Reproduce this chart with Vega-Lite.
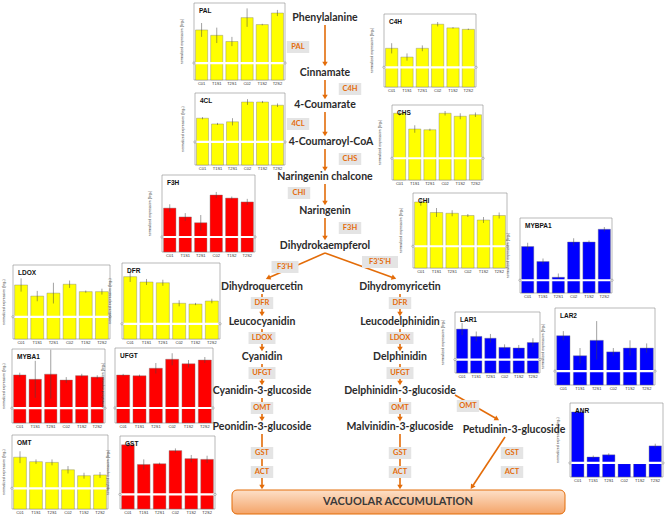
{
"$schema":"https://vega.github.io/schema/vega-lite/v6.json",
"width":667,"height":522,"autosize":"none","padding":0,"background":"white",
"config":{"view":{"stroke":null}},
"datasets":{
"layout":[
{"gene":"PAL","color":"#ffff00","x0":194,"x1":285,"y0":3,"y1":80,"brk":22},
{"gene":"C4H","color":"#ffff00","x0":384,"x1":476,"y0":14,"y1":87,"brk":27},
{"gene":"4CL","color":"#ffff00","x0":195,"x1":285,"y0":93,"y1":165,"brk":32},
{"gene":"CHS","color":"#ffff00","x0":392,"x1":483,"y0":105,"y1":180,"brk":29},
{"gene":"F3H","color":"#ff0000","x0":162,"x1":255,"y0":175,"y1":252,"brk":19.5},
{"gene":"CHI","color":"#ffff00","x0":413,"x1":507,"y0":193,"y1":268,"brk":29},
{"gene":"MYBPA1","color":"#0000ff","x0":520,"x1":612,"y0":218,"y1":293,"brk":17},
{"gene":"LDOX","color":"#ffff00","x0":13,"x1":110,"y0":265,"y1":339,"brk":30},
{"gene":"DFR","color":"#ffff00","x0":122,"x1":220,"y0":263,"y1":339,"brk":20},
{"gene":"MYBA1","color":"#ff0000","x0":12,"x1":105,"y0":349,"y1":423,"brk":20},
{"gene":"UFGT","color":"#ff0000","x0":115,"x1":213,"y0":348,"y1":423,"brk":20},
{"gene":"OMT","color":"#ffff00","x0":12,"x1":108,"y0":435,"y1":509,"brk":28},
{"gene":"GST","color":"#ff0000","x0":120,"x1":215,"y0":436,"y1":509,"brk":20},
{"gene":"LAR1","color":"#0000ff","x0":455,"x1":540,"y0":312,"y1":373,"brk":22},
{"gene":"LAR2","color":"#0000ff","x0":555,"x1":655,"y0":308,"y1":385,"brk":18},
{"gene":"ANR","color":"#0000ff","x0":570,"x1":663,"y0":403,"y1":477,"brk":19}
],
"expr":[
{"gene":"PAL","sample":"C01","rel":65,"err":9},{"gene":"PAL","sample":"T1S1","rel":58,"err":10},{"gene":"PAL","sample":"T2S1","rel":50,"err":6},{"gene":"PAL","sample":"C02","rel":81,"err":12},{"gene":"PAL","sample":"T1S2","rel":72,"err":1},{"gene":"PAL","sample":"T2S2","rel":87,"err":4},
{"gene":"C4H","sample":"C01","rel":53,"err":7},{"gene":"C4H","sample":"T1S1","rel":41,"err":5},{"gene":"C4H","sample":"T2S1","rel":53,"err":4},{"gene":"C4H","sample":"C02","rel":86,"err":3},{"gene":"C4H","sample":"T1S2","rel":81,"err":1},{"gene":"C4H","sample":"T2S2","rel":79,"err":1},
{"gene":"4CL","sample":"C01","rel":65,"err":1.5},{"gene":"4CL","sample":"T1S1","rel":57,"err":1.5},{"gene":"4CL","sample":"T2S1","rel":60,"err":5},{"gene":"4CL","sample":"C02","rel":87.5,"err":4},{"gene":"4CL","sample":"T1S2","rel":87.5,"err":1.5},{"gene":"4CL","sample":"T2S2","rel":83,"err":2.5},
{"gene":"CHS","sample":"C01","rel":89,"err":3},{"gene":"CHS","sample":"T1S1","rel":68,"err":5},{"gene":"CHS","sample":"T2S1","rel":67,"err":1.5},{"gene":"CHS","sample":"C02","rel":89,"err":3},{"gene":"CHS","sample":"T1S2","rel":85,"err":4},{"gene":"CHS","sample":"T2S2","rel":87,"err":3},
{"gene":"F3H","sample":"C01","rel":57,"err":5},{"gene":"F3H","sample":"T1S1","rel":45.5,"err":5},{"gene":"F3H","sample":"T2S1","rel":38,"err":10},{"gene":"F3H","sample":"C02","rel":74,"err":4},{"gene":"F3H","sample":"T1S2","rel":70,"err":2},{"gene":"F3H","sample":"T2S2","rel":65,"err":4},
{"gene":"CHI","sample":"C01","rel":88,"err":5},{"gene":"CHI","sample":"T1S1","rel":74,"err":6},{"gene":"CHI","sample":"T2S1","rel":73,"err":4},{"gene":"CHI","sample":"C02","rel":70,"err":2},{"gene":"CHI","sample":"T1S2","rel":64,"err":4},{"gene":"CHI","sample":"T2S2","rel":70,"err":4},
{"gene":"MYBPA1","sample":"C01","rel":62,"err":5},{"gene":"MYBPA1","sample":"T1S1","rel":42,"err":4},{"gene":"MYBPA1","sample":"T2S1","rel":21,"err":5},{"gene":"MYBPA1","sample":"C02","rel":68,"err":5},{"gene":"MYBPA1","sample":"T1S2","rel":68,"err":2},{"gene":"MYBPA1","sample":"T2S2","rel":85,"err":3},
{"gene":"LDOX","sample":"C01","rel":73,"err":9},{"gene":"LDOX","sample":"T1S1","rel":58,"err":7},{"gene":"LDOX","sample":"T2S1","rel":62,"err":14},{"gene":"LDOX","sample":"C02","rel":74,"err":5},{"gene":"LDOX","sample":"T1S2","rel":64,"err":1.5},{"gene":"LDOX","sample":"T2S2","rel":64,"err":4},
{"gene":"DFR","sample":"C01","rel":82,"err":7},{"gene":"DFR","sample":"T1S1","rel":75,"err":4},{"gene":"DFR","sample":"T2S1","rel":74,"err":4},{"gene":"DFR","sample":"C02","rel":47,"err":4},{"gene":"DFR","sample":"T1S2","rel":46,"err":1.5},{"gene":"DFR","sample":"T2S2","rel":50,"err":3},
{"gene":"MYBA1","sample":"C01","rel":65,"err":3},{"gene":"MYBA1","sample":"T1S1","rel":59,"err":25},{"gene":"MYBA1","sample":"T2S1","rel":66,"err":33},{"gene":"MYBA1","sample":"C02","rel":58,"err":4},{"gene":"MYBA1","sample":"T1S2","rel":64,"err":2.5},{"gene":"MYBA1","sample":"T2S2","rel":62,"err":2.5},
{"gene":"UFGT","sample":"C01","rel":64,"err":1.5},{"gene":"UFGT","sample":"T1S1","rel":63,"err":1.5},{"gene":"UFGT","sample":"T2S1","rel":73,"err":7},{"gene":"UFGT","sample":"C02","rel":85,"err":8},{"gene":"UFGT","sample":"T1S2","rel":79,"err":5},{"gene":"UFGT","sample":"T2S2","rel":84,"err":4},
{"gene":"OMT","sample":"C01","rel":70,"err":8},{"gene":"OMT","sample":"T1S1","rel":64,"err":3},{"gene":"OMT","sample":"T2S1","rel":63,"err":4},{"gene":"OMT","sample":"C02","rel":53,"err":5},{"gene":"OMT","sample":"T1S2","rel":45,"err":4},{"gene":"OMT","sample":"T2S2","rel":46,"err":4},
{"gene":"GST","sample":"C01","rel":88,"err":3},{"gene":"GST","sample":"T1S1","rel":61,"err":7},{"gene":"GST","sample":"T2S1","rel":62,"err":1.5},{"gene":"GST","sample":"C02","rel":80,"err":3},{"gene":"GST","sample":"T1S2","rel":69,"err":5},{"gene":"GST","sample":"T2S2","rel":68,"err":5},
{"gene":"LAR1","sample":"C01","rel":72,"err":10},{"gene":"LAR1","sample":"T1S1","rel":60,"err":8},{"gene":"LAR1","sample":"T2S1","rel":57,"err":7},{"gene":"LAR1","sample":"C02","rel":42,"err":5},{"gene":"LAR1","sample":"T1S2","rel":41,"err":5},{"gene":"LAR1","sample":"T2S2","rel":50,"err":7},
{"gene":"LAR2","sample":"C01","rel":64,"err":6},{"gene":"LAR2","sample":"T1S1","rel":38,"err":10},{"gene":"LAR2","sample":"T2S1","rel":58,"err":25},{"gene":"LAR2","sample":"C02","rel":43,"err":5},{"gene":"LAR2","sample":"T1S2","rel":48,"err":10},{"gene":"LAR2","sample":"T2S2","rel":48,"err":6},
{"gene":"ANR","sample":"C01","rel":88,"err":1},{"gene":"ANR","sample":"T1S1","rel":27,"err":2},{"gene":"ANR","sample":"T2S1","rel":30,"err":2},{"gene":"ANR","sample":"C02","rel":18,"err":1},{"gene":"ANR","sample":"T1S2","rel":18,"err":1},{"gene":"ANR","sample":"T2S2","rel":42,"err":3}
],
"nodes":[
{"name":"Phenylalanine","x":325,"y":18},{"name":"Cinnamate","x":325,"y":73},{"name":"4-Coumarate","x":325,"y":105},{"name":"4-Coumaroyl-CoA","x":331,"y":142},{"name":"Naringenin chalcone","x":325,"y":177},{"name":"Naringenin","x":325,"y":211},{"name":"Dihydrokaempferol","x":325,"y":246},
{"name":"Dihydroquercetin","x":262,"y":287},{"name":"Dihydromyricetin","x":400,"y":287},
{"name":"Leucocyanidin","x":262,"y":322},{"name":"Leucodelphinidin","x":400,"y":322},
{"name":"Cyanidin","x":262,"y":357},{"name":"Delphinidin","x":400,"y":357},
{"name":"Cyanidin-3-glucoside","x":262,"y":391},{"name":"Delphinidin-3-glucoside","x":400,"y":391},
{"name":"Peonidin-3-glucoside","x":262,"y":427},{"name":"Malvinidin-3-glucoside","x":400,"y":427},{"name":"Petudinin-3-glucoside","x":514,"y":430}
],
"edges":[
{"x1":325,"y1":25,"x2":325,"y2":64},{"x1":325,"y1":80,"x2":325,"y2":97},{"x1":325,"y1":112,"x2":325,"y2":134},{"x1":325,"y1":149,"x2":325,"y2":169},{"x1":325,"y1":184,"x2":325,"y2":203},{"x1":325,"y1":218,"x2":325,"y2":238},
{"x1":325,"y1":253,"x2":268,"y2":278},{"x1":325,"y1":253,"x2":394,"y2":278},
{"x1":262,"y1":294,"x2":262,"y2":314},{"x1":262,"y1":329,"x2":262,"y2":349},{"x1":262,"y1":364,"x2":262,"y2":383},{"x1":262,"y1":398,"x2":262,"y2":419},{"x1":262,"y1":434,"x2":262,"y2":487},
{"x1":400,"y1":294,"x2":400,"y2":314},{"x1":400,"y1":329,"x2":400,"y2":349},{"x1":400,"y1":364,"x2":400,"y2":383},{"x1":400,"y1":398,"x2":400,"y2":419},{"x1":400,"y1":434,"x2":400,"y2":487},
{"x1":455,"y1":395,"x2":497,"y2":419},{"x1":505,"y1":437,"x2":472,"y2":487}
],
"enzymes":[
{"label":"PAL","x":298,"y":47},{"label":"C4H","x":350,"y":89},{"label":"4CL","x":298,"y":124},{"label":"CHS","x":350,"y":159},{"label":"CHI","x":299,"y":193},{"label":"F3H","x":350,"y":228},
{"label":"F3'H","x":285,"y":267},{"label":"F3'5'H","x":380,"y":262},
{"label":"DFR","x":262,"y":303},{"label":"DFR","x":400,"y":303},{"label":"LDOX","x":262,"y":338},{"label":"LDOX","x":400,"y":338},{"label":"UFGT","x":262,"y":373},{"label":"UFGT","x":400,"y":373},
{"label":"OMT","x":262,"y":408},{"label":"OMT","x":400,"y":408},{"label":"OMT","x":468,"y":406},
{"label":"GST","x":262,"y":453},{"label":"GST","x":400,"y":453},{"label":"GST","x":512,"y":453},
{"label":"ACT","x":262,"y":472},{"label":"ACT","x":400,"y":472},{"label":"ACT","x":512,"y":472}
]
},
"layer":[
{"data":{"name":"edges"},"mark":{"type":"rule","stroke":"#e36c09","strokeWidth":1.6},
 "encoding":{"x":{"field":"x1","type":"quantitative","scale":{"domain":[0,667],"nice":false,"zero":false},"axis":null},"x2":{"field":"x2"},
 "y":{"field":"y1","type":"quantitative","scale":{"domain":[0,522],"nice":false,"zero":false,"reverse":true},"axis":null},"y2":{"field":"y2"}}},
{"data":{"name":"edges"},"transform":[{"calculate":"atan2(datum.x2-datum.x1, -(datum.y2-datum.y1))*180/PI","as":"ang"}],
 "mark":{"type":"point","shape":"triangle-up","filled":true,"color":"#e36c09","size":30,"opacity":1},
 "encoding":{"x":{"field":"x2","type":"quantitative","scale":{"domain":[0,667],"nice":false,"zero":false},"axis":null},
 "y":{"field":"y2","type":"quantitative","scale":{"domain":[0,522],"nice":false,"zero":false,"reverse":true},"axis":null},
 "angle":{"field":"ang","type":"quantitative","scale":null}}},
{"data":{"name":"enzymes"},"transform":[{"calculate":"4.5*length(datum.label)+9","as":"w"},{"calculate":"datum.x-datum.w/2","as":"bx1"},{"calculate":"datum.x+datum.w/2","as":"bx2"},{"calculate":"datum.y-6","as":"by1"},{"calculate":"datum.y+6","as":"by2"}],
 "mark":{"type":"rect","fill":"#e4e4e4"},
 "encoding":{"x":{"field":"bx1","type":"quantitative","scale":{"domain":[0,667],"nice":false,"zero":false},"axis":null},"x2":{"field":"bx2"},
 "y":{"field":"by1","type":"quantitative","scale":{"domain":[0,522],"nice":false,"zero":false,"reverse":true},"axis":null},"y2":{"field":"by2"}}},
{"data":{"name":"enzymes"},"mark":{"type":"text","font":"Lato","fontWeight":"bold","fontSize":7.5,"color":"#e46c0a","align":"center","baseline":"middle"},
 "encoding":{"x":{"field":"x","type":"quantitative","scale":{"domain":[0,667],"nice":false,"zero":false},"axis":null},
 "y":{"field":"y","type":"quantitative","scale":{"domain":[0,522],"nice":false,"zero":false,"reverse":true},"axis":null},"text":{"field":"label"}}},
{"data":{"values":[{"label":"VACUOLAR ACCUMULATION","x0":232,"x1":565,"y0":490,"y1":514}]},
 "mark":{"type":"rect","cornerRadius":5,"stroke":"#e36c09","strokeWidth":1,"fill":{"gradient":"linear","x1":0,"y1":0,"x2":0,"y2":1,"stops":[{"offset":0,"color":"#fde0c8"},{"offset":1,"color":"#f4a468"}]}},
 "encoding":{"x":{"field":"x0","type":"quantitative","scale":{"domain":[0,667],"nice":false,"zero":false},"axis":null},"x2":{"field":"x1"},
 "y":{"field":"y0","type":"quantitative","scale":{"domain":[0,522],"nice":false,"zero":false,"reverse":true},"axis":null},"y2":{"field":"y1"}}},
{"data":{"values":[{"label":"VACUOLAR ACCUMULATION","x":398,"y":502}]},
 "mark":{"type":"text","font":"Lato","fontWeight":"bold","fontSize":11,"color":"#3a3a3a","align":"center","baseline":"middle"},
 "encoding":{"x":{"field":"x","type":"quantitative","scale":{"domain":[0,667],"nice":false,"zero":false},"axis":null},
 "y":{"field":"y","type":"quantitative","scale":{"domain":[0,522],"nice":false,"zero":false,"reverse":true},"axis":null},"text":{"field":"label"}}},
{"data":{"name":"layout"},"mark":{"type":"rect","fill":"white","stroke":"#8c8c8c","strokeWidth":0.6},
 "encoding":{"x":{"field":"x0","type":"quantitative","scale":{"domain":[0,667],"nice":false,"zero":false},"axis":null},"x2":{"field":"x1"},
 "y":{"field":"y0","type":"quantitative","scale":{"domain":[0,522],"nice":false,"zero":false,"reverse":true},"axis":null},"y2":{"field":"y1"}}},
{"data":{"name":"expr"},"transform":[
 {"lookup":"gene","from":{"data":{"name":"layout"},"key":"gene","fields":["x0","x1","y0","y1","color"]}},
 {"calculate":"indexof(['C01','T1S1','T2S1','C02','T1S2','T2S2'], datum.sample)","as":"i"},
 {"calculate":"(datum.x1-datum.x0)/6","as":"bw"},
 {"calculate":"datum.x0+(datum.i+0.1)*datum.bw","as":"bx1"},{"calculate":"datum.x0+(datum.i+0.9)*datum.bw","as":"bx2"},
 {"calculate":"datum.y1-datum.rel/100*(datum.y1-datum.y0)","as":"by"}],
 "mark":{"type":"rect","stroke":"#7a7a7a","strokeWidth":0.4},
 "encoding":{"x":{"field":"bx1","type":"quantitative","scale":{"domain":[0,667],"nice":false,"zero":false},"axis":null},"x2":{"field":"bx2"},
 "y":{"field":"by","type":"quantitative","scale":{"domain":[0,522],"nice":false,"zero":false,"reverse":true},"axis":null},"y2":{"field":"y1"},
 "fill":{"field":"color","type":"nominal","scale":null}}},
{"data":{"name":"expr"},"transform":[
 {"lookup":"gene","from":{"data":{"name":"layout"},"key":"gene","fields":["x0","x1","y0","y1"]}},
 {"calculate":"indexof(['C01','T1S1','T2S1','C02','T1S2','T2S2'], datum.sample)","as":"i"},
 {"calculate":"datum.x0+(datum.i+0.5)*(datum.x1-datum.x0)/6","as":"cx"},
 {"calculate":"max(datum.y0, datum.y1-(datum.rel+datum.err)/100*(datum.y1-datum.y0))","as":"e1"},
 {"calculate":"datum.y1-(datum.rel-datum.err)/100*(datum.y1-datum.y0)","as":"e2"}],
 "mark":{"type":"rule","stroke":"#444444","strokeWidth":0.5},
 "encoding":{"x":{"field":"cx","type":"quantitative","scale":{"domain":[0,667],"nice":false,"zero":false},"axis":null},
 "y":{"field":"e1","type":"quantitative","scale":{"domain":[0,522],"nice":false,"zero":false,"reverse":true},"axis":null},"y2":{"field":"e2"}}},
{"data":{"name":"layout"},"transform":[{"calculate":"datum.x0-3","as":"lx1"},{"calculate":"datum.x1+3","as":"lx2"},{"calculate":"datum.y1-datum.brk/100*(datum.y1-datum.y0)","as":"yb"}],
 "mark":{"type":"rule","stroke":"white","strokeWidth":2.2},
 "encoding":{"x":{"field":"lx1","type":"quantitative","scale":{"domain":[0,667],"nice":false,"zero":false},"axis":null},"x2":{"field":"lx2"},
 "y":{"field":"yb","type":"quantitative","scale":{"domain":[0,522],"nice":false,"zero":false,"reverse":true},"axis":null}}},
{"data":{"name":"layout"},"transform":[{"calculate":"datum.y1-datum.brk/100*(datum.y1-datum.y0)","as":"yb"},{"fold":["x0","x1"],"as":["side","bxp"]}],
 "mark":{"type":"point","shape":"circle","filled":true,"fill":"white","stroke":"#666666","strokeWidth":0.5,"size":5,"opacity":1},
 "encoding":{"x":{"field":"bxp","type":"quantitative","scale":{"domain":[0,667],"nice":false,"zero":false},"axis":null},
 "y":{"field":"yb","type":"quantitative","scale":{"domain":[0,522],"nice":false,"zero":false,"reverse":true},"axis":null}}},
{"data":{"name":"layout"},"transform":[{"calculate":"datum.x0+5","as":"tx"},{"calculate":"datum.y0+8","as":"ty"}],
 "mark":{"type":"text","font":"Liberation Sans","fontWeight":"bold","fontSize":6.5,"color":"#111111","align":"left","baseline":"middle"},
 "encoding":{"x":{"field":"tx","type":"quantitative","scale":{"domain":[0,667],"nice":false,"zero":false},"axis":null},
 "y":{"field":"ty","type":"quantitative","scale":{"domain":[0,522],"nice":false,"zero":false,"reverse":true},"axis":null},"text":{"field":"gene"}}},
{"data":{"name":"layout"},"transform":[{"calculate":"max(4, datum.x0-12)","as":"tx"},{"calculate":"(datum.y0+datum.y1)/2","as":"ty"}],
 "mark":{"type":"text","font":"Liberation Sans","fontSize":3.6,"color":"#333333","align":"center","baseline":"middle","angle":270,"text":"normalized expression (log₂)"},
 "encoding":{"x":{"field":"tx","type":"quantitative","scale":{"domain":[0,667],"nice":false,"zero":false},"axis":null},
 "y":{"field":"ty","type":"quantitative","scale":{"domain":[0,522],"nice":false,"zero":false,"reverse":true},"axis":null}}},
{"data":{"name":"expr"},"transform":[
 {"lookup":"gene","from":{"data":{"name":"layout"},"key":"gene","fields":["x0","x1","y1"]}},
 {"calculate":"indexof(['C01','T1S1','T2S1','C02','T1S2','T2S2'], datum.sample)","as":"i"},
 {"calculate":"datum.x0+(datum.i+0.5)*(datum.x1-datum.x0)/6","as":"cx"},{"calculate":"datum.y1+4","as":"ly"}],
 "mark":{"type":"text","font":"Liberation Sans","fontSize":4,"color":"#333333","align":"center","baseline":"middle"},
 "encoding":{"x":{"field":"cx","type":"quantitative","scale":{"domain":[0,667],"nice":false,"zero":false},"axis":null},
 "y":{"field":"ly","type":"quantitative","scale":{"domain":[0,522],"nice":false,"zero":false,"reverse":true},"axis":null},"text":{"field":"sample"}}},
{"data":{"name":"nodes"},"mark":{"type":"text","font":"Lato","fontWeight":"bold","fontSize":10.5,"color":"#2b2b2b","align":"center","baseline":"middle"},
 "encoding":{"x":{"field":"x","type":"quantitative","scale":{"domain":[0,667],"nice":false,"zero":false},"axis":null},
 "y":{"field":"y","type":"quantitative","scale":{"domain":[0,522],"nice":false,"zero":false,"reverse":true},"axis":null},"text":{"field":"name"}}}
]
}
